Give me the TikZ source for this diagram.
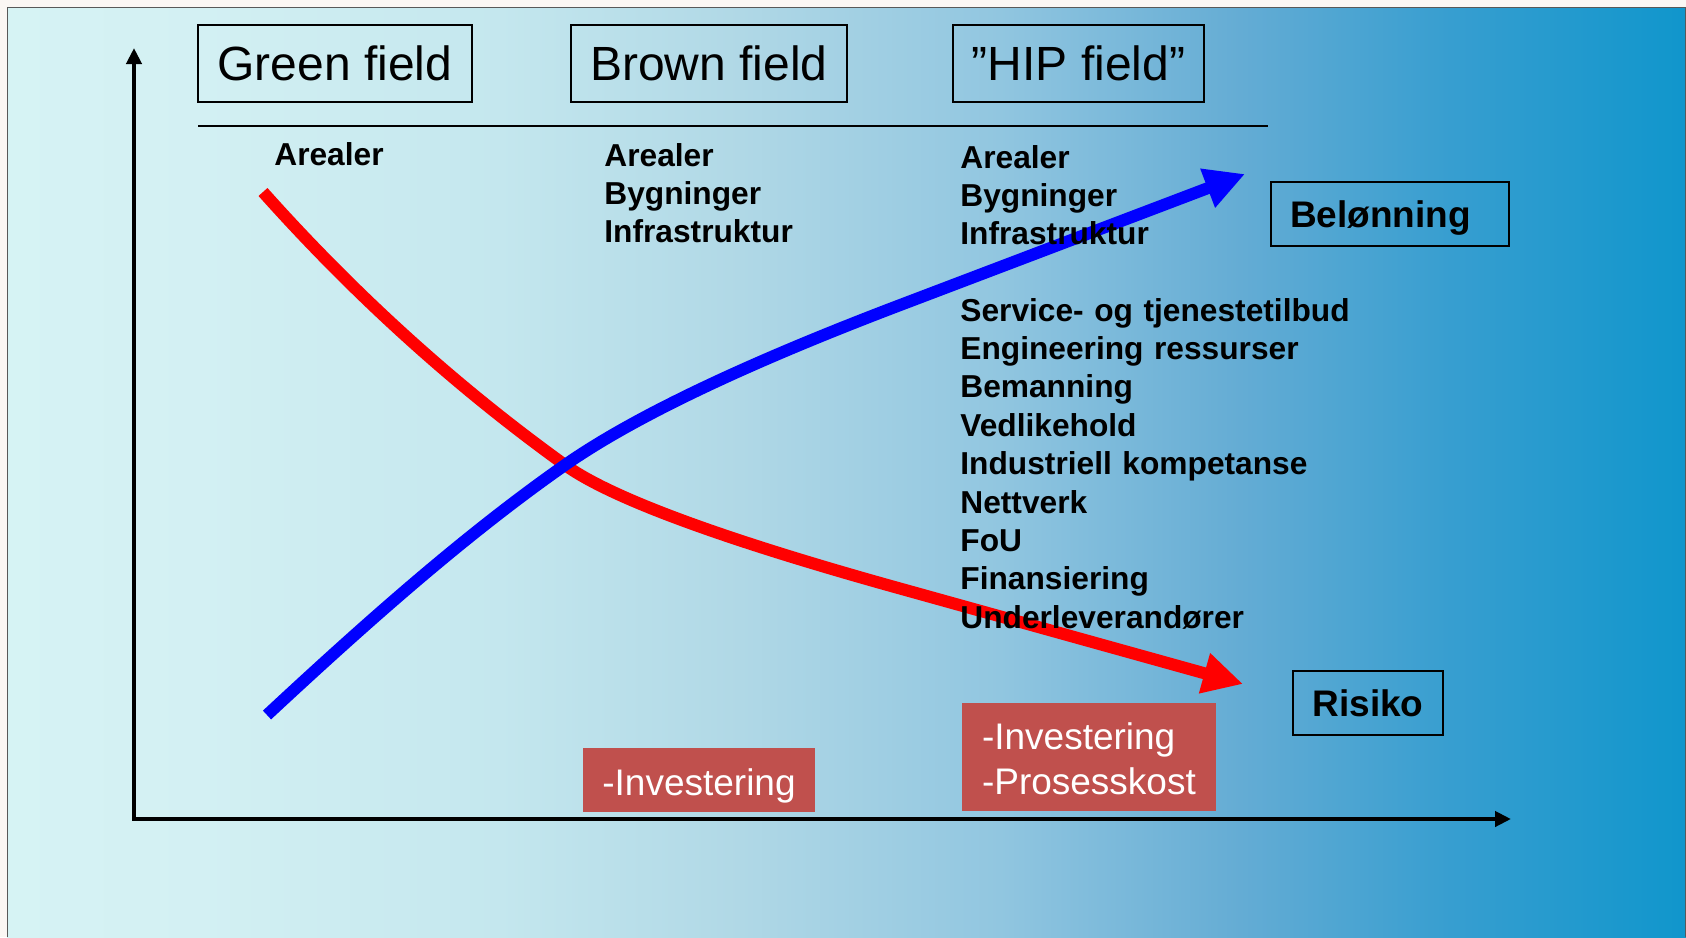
\documentclass[tikz,border=0pt]{standalone}
\usepackage{fontspec}
\setmainfont{Liberation Sans}
\usetikzlibrary{arrows.meta}
\definecolor{bgA}{RGB}{214,243,244}
\definecolor{bgB}{RGB}{211,240,243}
\definecolor{bgC}{RGB}{196,231,238}
\definecolor{bgD}{RGB}{176,216,230}
\definecolor{bgE}{RGB}{145,198,224}
\definecolor{bgF}{RGB}{100,172,212}
\definecolor{bgG}{RGB}{55,158,208}
\definecolor{bgH}{RGB}{16,150,204}
\definecolor{marginc}{RGB}{251,247,244}
\definecolor{costred}{RGB}{192,80,77}
\pgfdeclarehorizontalshading{slidebg}{100bp}{color(0bp)=(bgA); color(25bp)=(bgA); color(30.75bp)=(bgB); color(39.68bp)=(bgC); color(46.83bp)=(bgD); color(54.57bp)=(bgE); color(61.72bp)=(bgF); color(67.97bp)=(bgG); color(75bp)=(bgH); color(100bp)=(bgH)}
\begin{document}
\begin{tikzpicture}[x=0.5pt,y=-0.5pt,
  titlebox/.style={draw=black, line width=0.75pt, font=\fontsize{24}{28}\selectfont, text height=17.3pt, text depth=0pt, inner sep=0pt, minimum height=38.5pt},
  tagbox/.style={draw=black, line width=0.75pt, font=\bfseries\fontsize{18.5}{22}\selectfont, text height=13.3pt, text depth=0pt, inner sep=0pt, minimum height=32pt},
  costbox/.style={fill=costred, text=white, font=\fontsize{18.5}{22.5}\selectfont, inner sep=0pt},
  itemlist/.style={font=\bfseries\fontsize{15.85}{19.2}\selectfont, anchor=base west, inner sep=0pt, text width=250pt, align=left},
  axisline/.style={line width=2.1pt, {Triangle[length=8pt,width=7.5pt]}-{Triangle[length=8pt,width=7.5pt]}},
  curve/.style={line width=6pt, -{Triangle[length=20pt,width=19.5pt]}}]
\useasboundingbox (0,0) rectangle (1686,937);
\fill[marginc] (0,0) rectangle (1686,937);
\shade[shading=slidebg] (7,7) rectangle (1686,937);
\draw[black!65, line width=0.5pt] (7,937) -- (7,7) -- (1685.5,7) -- (1685.5,937);

% axes
\coordinate (ytop) at (134,48);
\coordinate (orig) at (134,819);
\coordinate (xend) at (1511,819);
\draw[axisline] (ytop) -- (orig) -- (xend);

% rule under titles
\coordinate (ruleL) at (198,126);
\coordinate (ruleR) at (1268,126);
\draw[line width=0.75pt] (ruleL) -- (ruleR);

% curves
\coordinate (cross) at (565,465);
\coordinate (riskStart) at (263,192);
\coordinate (riskBend) at (900,588.5);
\coordinate (riskEnd) at (1243,684);
\coordinate (gainStart) at (267,715);
\coordinate (gainBend) at (900,305.1);
\coordinate (gainEnd) at (1245,174);
\draw[curve, red] (riskStart) .. controls (363,304) and (465,393) .. (cross)
  .. controls (610.8,498) and (722.5,539.2) .. (riskBend) -- (riskEnd);
\draw[curve, blue] (gainStart) .. controls (367,622) and (465,535) .. (cross)
  .. controls (632.9,417.5) and (744.6,364.2) .. (gainBend) -- (gainEnd);

% title boxes
\node[titlebox, minimum width=137pt] (green) at (335,63.5) {Green field};
\node[titlebox, minimum width=138pt] (brown) at (709,63.5) {Brown field};
\node[titlebox, minimum width=125.5pt] (hip) at (1078.5,63.5) {”HIP field”};

% text columns
\node[itemlist] (greenlist) at (274,165) {Arealer};
\node[itemlist] (brownlist) at (604,166) {Arealer\\Bygninger\\Infrastruktur};
\node[itemlist] (hiplist) at (960,168) {Arealer\\Bygninger\\Infrastruktur};
\node[itemlist] (hipextra) at (960,321) {Service- og tjenestetilbud\\Engineering ressurser\\Bemanning\\Vedlikehold\\Industriell kompetanse\\Nettverk\\FoU\\Finansiering\\Underleverandører};

% tag boxes
\node[tagbox, text width=100pt, align=left, inner xsep=9.5pt] (belonning) at (1390,214) {Belønning};
\node[tagbox, minimum width=75pt] (risiko) at (1368,703) {Risiko};

% cost boxes
\node[costbox, minimum width=116pt, minimum height=32pt, text height=15.4pt, text depth=0pt] (cost1) at (699,780) {-Investering};
\node[costbox, text width=107pt, align=left, inner xsep=10pt, text height=15.4pt, text depth=23.3pt, minimum height=54pt] (cost2) at (1089,757) {-Investering\\-Prosesskost};
\end{tikzpicture}
\end{document}
